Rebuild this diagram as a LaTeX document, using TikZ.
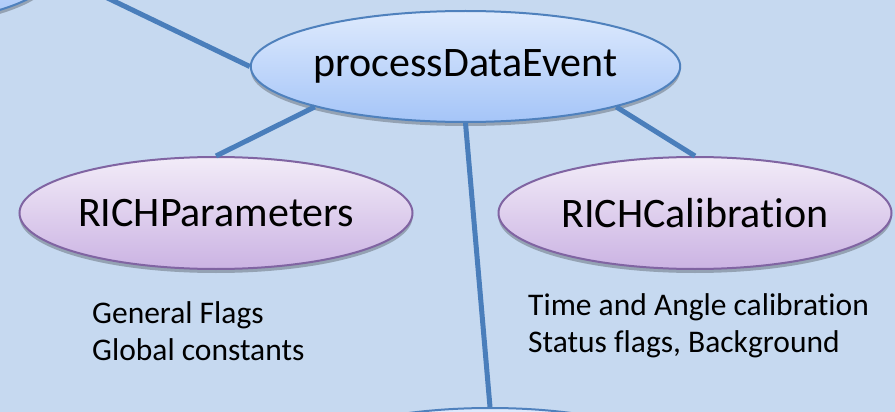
\documentclass[tikz,border=0pt]{standalone}
\usepackage{fontspec}
\setmainfont{Carlito}[Ligatures={NoCommon}]
\usetikzlibrary{shapes.geometric,shadows}
\definecolor{slide}{HTML}{C6D9F0}
\definecolor{linkblue}{HTML}{4A7EBB}
\definecolor{callblue}{HTML}{4F81BD}
\definecolor{calltop}{HTML}{DEEAFD}
\definecolor{callbot}{HTML}{A5C5F8}
\definecolor{modedge}{HTML}{8064A2}
\definecolor{modtop}{HTML}{F2ECF8}
\definecolor{modbot}{HTML}{CBB3E3}
\begin{document}
\begin{tikzpicture}[x=1pt,y=-1pt,
  call/.style={ellipse,draw=callblue,line width=2pt,top color=calltop,bottom color=callbot,
    minimum width=391pt,minimum height=111pt,inner sep=0pt,font=\fontsize{42}{50}\selectfont,
    drop shadow={shadow xshift=0pt,shadow yshift=-4pt,opacity=0.25,fill=black}},
  module/.style={call,draw=modedge,top color=modtop,bottom color=modbot,minimum width=393pt,minimum height=112pt},
  note/.style={anchor=base west,inner sep=0pt,font=\fontsize{31.5}{38}\selectfont},
  link/.style={draw=linkblue,line width=5pt}]
\useasboundingbox (0,0) rectangle (895,412);
\clip (0,0) rectangle (895,412);
\fill[slide] (0,0) rectangle (895,412);

% call tree
\node[call] (prev) at (-143,-28) {};
\node[call] (pde) at (465.5,66.5) {processDataEvent};
\node[call] (next) at (490,463.5) {};
\node[module] (rpar) at (216,213) {RICHParameters};
\node[module] (rcal) at (695,213) {RICHCalibration};

\draw[link] (prev.east) -- (pde.west);
\draw[link] (pde.195) -- (rpar.north);
\draw[link] (pde.345) -- (rcal.north);
\draw[link] (pde.south) -- (next.north);

% what each module holds
\node[note] (gflags) at (92,323) {General Flags};
\node[note] (gconst) at (92,360) {Global constants};
\node[note] (tacal) at (528,315) {Time and Angle calibration};
\node[note] (sflags) at (528,352) {Status flags, Background};
\end{tikzpicture}
\end{document}
